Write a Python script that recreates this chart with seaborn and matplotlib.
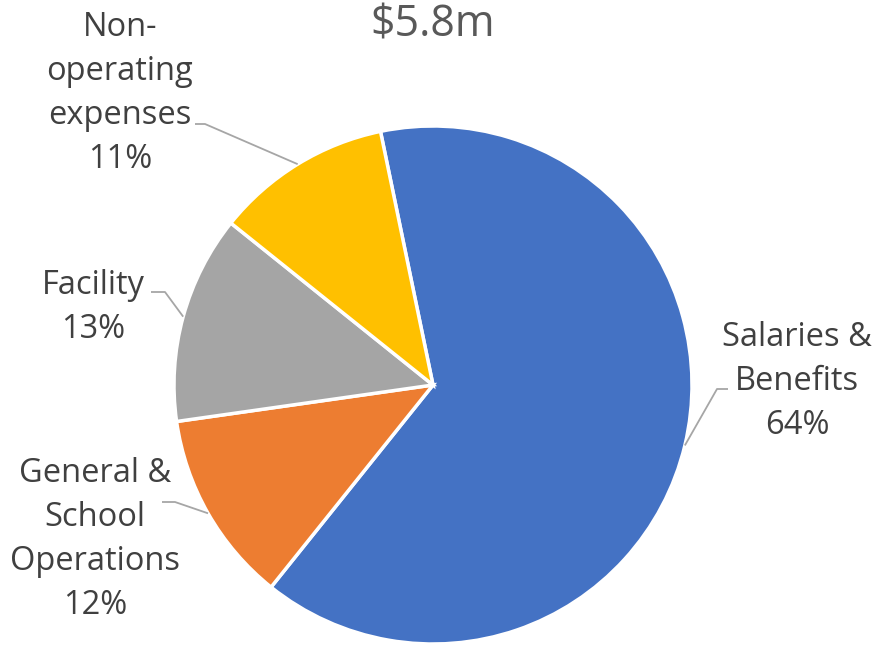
import numpy as np
import matplotlib
matplotlib.use("Agg")
import matplotlib.pyplot as plt
import seaborn as sns

# expense shares (%)
categories = ["Salaries &\nBenefits", "General &\nSchool\nOperations", "Facility", "Non-\noperating\nexpenses"]
shares = [64, 12, 13, 11]
colors = ["#4472C4", "#ED7D31", "#A5A5A5", "#FFC000"]
total_label = "$5.8m"

sns.set_theme(style="white")
plt.rcParams["font.family"] = ["Open Sans", "DejaVu Sans"]

W, H = 875, 646
fig = plt.figure(figsize=(W / 100, H / 100), dpi=100)
ax = fig.add_axes([0, 0, 1, 1])

cx, cy, r = 433, H - 385, 259
wedges, _ = ax.pie(shares, colors=colors, startangle=101.7, counterclock=False,
                   center=(cx, cy), radius=r,
                   wedgeprops=dict(edgecolor="white", linewidth=2.5))
ax.set_xlim(0, W)
ax.set_ylim(0, H)
ax.set_aspect("equal")
ax.axis("off")

# label centre, elbow of leader line, end of short horizontal piece (pixel coords, y down)
label_pos = [(797, 382), (95, 540), (93, 307), (120, 93)]
leader = [((717, 389), (728, 389)), ((175, 502), (162, 502)),
          ((165, 292), (151, 292)), ((205, 124), (195, 124))]

for w, name, v, (lx, ly), (elbow, end) in zip(wedges, categories, shares, label_pos, leader):
    ang = np.deg2rad((w.theta1 + w.theta2) / 2)
    px, py = cx + r * np.cos(ang), cy + r * np.sin(ang)
    xs = [px, elbow[0], end[0]]
    ys = [py, H - elbow[1], H - end[1]]
    ax.plot(xs, ys, color="#A6A6A6", lw=1.3, solid_capstyle="butt")
    ax.text(lx, H - ly, f"{name}\n{v}%", ha="center", va="center",
            fontsize=23.5, color="#404040", linespacing=1.44)

ax.text(433, H - 25, total_label, ha="center", va="center", fontsize=31, color="#595959")

fig.savefig("out.png", dpi=100)
